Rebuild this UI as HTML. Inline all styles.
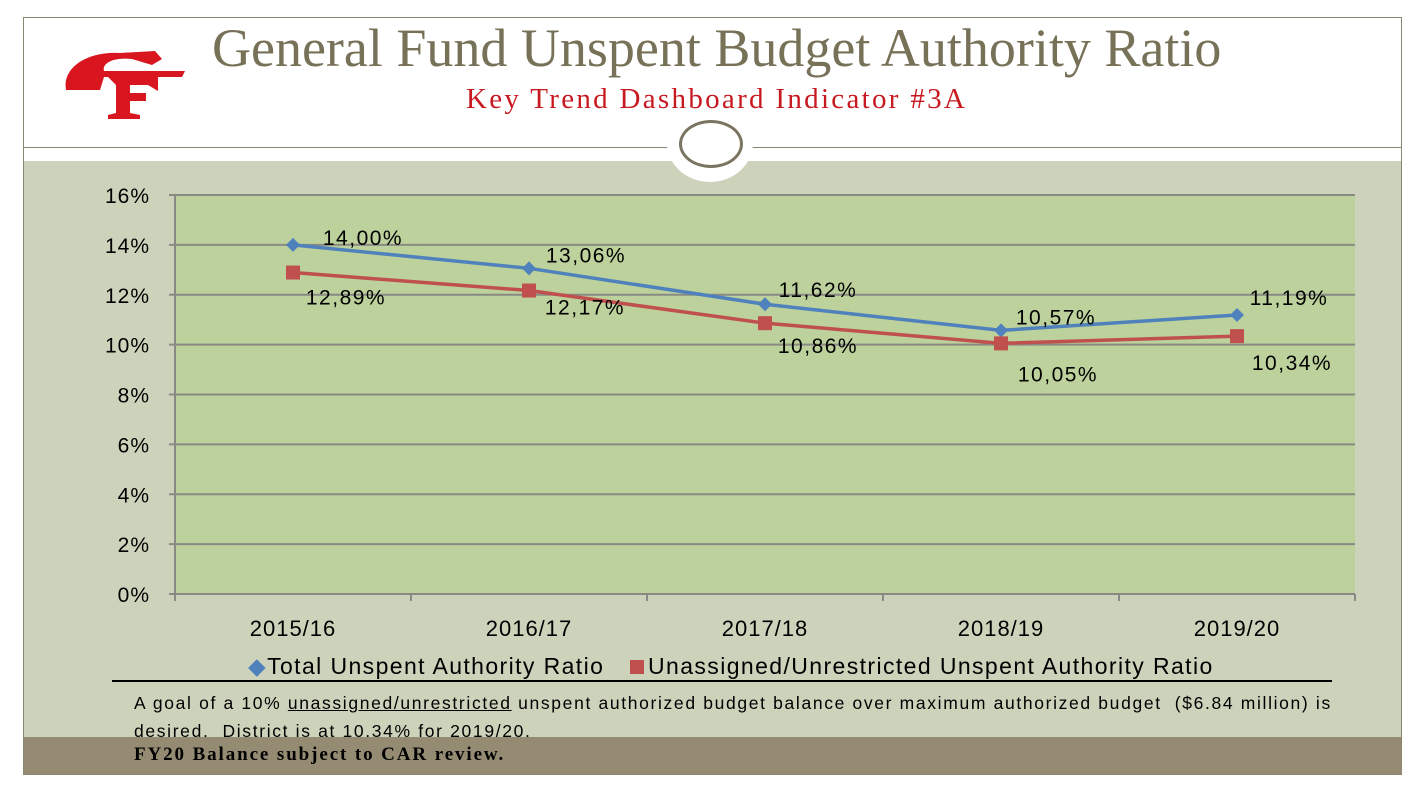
<!DOCTYPE html>
<html><head><meta charset="utf-8"><style>
body{margin:0;width:1426px;height:792px;background:#fff;position:relative;overflow:hidden;font-family:"Liberation Sans",sans-serif}
.abs{position:absolute}
</style></head><body>
<div class="abs" style="left:23px;top:17px;width:1379px;height:758px;border:1px solid #8a8670;box-sizing:border-box"></div>
<div class="abs" style="left:24px;top:161px;width:1377px;height:577px;background:#cdd3bb"></div>
<div class="abs" style="left:24px;top:737px;width:1377px;height:37px;background:#948b72"></div>
<div class="abs" style="left:24px;top:147px;width:1377px;height:1px;background:#8a8670"></div>
<div class="abs" style="left:667px;top:104px;width:86px;height:78px;border-radius:50%;background:#fff"></div>
<div class="abs" style="left:679px;top:120px;width:64px;height:48px;border-radius:50%;border:3px solid #7a7460;box-sizing:border-box"></div>
<svg class="abs" style="left:60px;top:45px" width="130" height="80" viewBox="0 0 130 80">
<path d="M6 45 C2 22 28 6 60 8 L95 6 L102 14 L92 20 L72 14 C50 12 42 20 44 26 L125 26 L122 32 L44 32 L40 45 Z" fill="#d9151f"/>
<path d="M48 32 L98 32 L98 46 L88 40 L70 40 L70 48 L86 48 L86 56 L70 56 L70 68 L80 70 L80 74 L48 74 L48 70 L56 68 L56 40 Z" fill="#d9151f"/>
</svg>
<div class="abs" style="left:212px;top:17px;font-family:'Liberation Serif',serif;font-size:54px;color:#777158;white-space:nowrap">General Fund Unspent Budget Authority Ratio</div>
<div class="abs" style="left:466px;top:83px;font-family:'Liberation Serif',serif;font-size:29px;letter-spacing:2.3px;color:#c81920;white-space:nowrap">Key Trend Dashboard Indicator #3A</div>
<svg class="abs" id="chart" style="left:0;top:0" width="1426" height="792"></svg>
<div class="abs" style="left:112px;top:653px;width:1220px;height:27px;border-bottom:2px solid #000;font-size:23px;letter-spacing:1.4px;white-space:nowrap;color:#000">
<span style="position:absolute;left:136px;top:0"><span style="color:#4f81bd">◆</span>Total Unspent Authority Ratio</span>
<span style="position:absolute;left:518px;top:0"><span style="display:inline-block;width:14px;height:14px;background:#c0504d;margin-right:4px"></span>Unassigned/Unrestricted Unspent Authority Ratio</span>
</div>
<div class="abs" style="left:134px;top:689px;width:1220px;font-size:17.5px;letter-spacing:1.65px;line-height:28px;color:#000">A goal of a 10% <u>unassigned/unrestricted</u> unspent authorized budget balance over maximum authorized budget &nbsp;($6.84 million) is desired.&nbsp; District is at 10.34% for 2019/20.</div>
<div class="abs" style="left:134px;top:744px;font-family:'Liberation Serif',serif;font-weight:bold;font-size:19px;letter-spacing:1.9px;color:#000">FY20 Balance subject to CAR review.</div>
<script>
const categories=["2015/16","2016/17","2017/18","2018/19","2019/20"];
const totalRatio=[14.00,13.06,11.62,10.57,11.19];
const unassignedRatio=[12.89,12.17,10.86,10.05,10.34];
const yTicks=[0,2,4,6,8,10,12,14,16];
const NS="http://www.w3.org/2000/svg";
const svg=document.getElementById('chart');
const X0=175,X1=1355,Y0=594,Y1=195;
const band=(X1-X0)/categories.length;
const x=i=>X0+band*(i+0.5);
const y=v=>Y0-(v/16)*(Y0-Y1);
function el(t,a){const e=document.createElementNS(NS,t);for(const k in a)e.setAttribute(k,a[k]);svg.appendChild(e);return e;}
const bg=el('rect',{x:X0,y:Y1,width:X1-X0,height:Y0-Y1,fill:'#bcd19b'});


yTicks.forEach(t=>{
 const g=el('line',{x1:X0-6,x2:X1,y1:y(t),y2:y(t),stroke:'#8a8a84','stroke-width':2});
 
 
 const tx=el('text',{x:150,y:y(t)+8,'text-anchor':'end','font-size':21,'letter-spacing':1,fill:'#000','font-family':'Liberation Sans'});
 tx.textContent=t+'%';
 
 
});
const ax=el('line',{x1:X0,x2:X0,y1:Y1,y2:Y0,stroke:'#8a8a84','stroke-width':2});


for(let i=0;i<=categories.length;i++){
 const tk=el('line',{x1:X0+band*i,x2:X0+band*i,y1:Y0,y2:Y0+7,stroke:'#8a8a84','stroke-width':2});
 
 
}
categories.forEach((c,i)=>{
 const tx=el('text',{x:x(i),y:636,'text-anchor':'middle','font-size':22,'letter-spacing':1,fill:'#000','font-family':'Liberation Sans'});
 tx.textContent=c;
 
 
});
const fmt=v=>v.toFixed(2).replace('.',',')+'%';
function series(vals,color,name,marker,labOff){
 const p=el('polyline',{points:vals.map((v,i)=>x(i)+','+y(v)).join(' '),fill:'none',stroke:color,'stroke-width':3.5});
 
 
 vals.forEach((v,i)=>{
  let m;
  if(marker==='d') m=el('polygon',{points:`${x(i)},${y(v)-7} ${x(i)+7},${y(v)} ${x(i)},${y(v)+7} ${x(i)-7},${y(v)}`,fill:color});
  else m=el('rect',{x:x(i)-7,y:y(v)-7,width:14,height:14,fill:color});
  
  
  const o=labOff[i];
  const t=el('text',{x:x(i)+o[0],y:y(v)+o[1],'text-anchor':'middle','font-size':21,'letter-spacing':1.5,fill:'#000','font-family':'Liberation Sans'});
  t.textContent=fmt(v);
  
  
 });
}
series(totalRatio,'#4f81bd','total-ratio','d',[[70,0],[57,-6],[53,-7],[55,-6],[52,-10]]);
series(unassignedRatio,'#c0504d','unassigned-ratio','s',[[53,32],[56,24],[53,30],[57,38],[55,34]]);
</script>
</body></html>
